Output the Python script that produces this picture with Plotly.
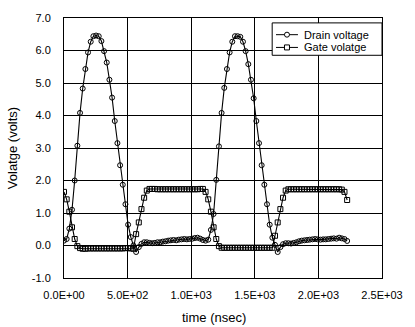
import plotly.graph_objects as go

# Sample instants (ns)
time_ns = [
    0, 21, 42, 63, 84, 105, 126, 147, 168, 189,
    210, 231, 252, 273, 294, 315, 336, 357, 378, 399,
    420, 441, 462, 483, 504, 525, 546, 567, 588, 609,
    630, 651, 672, 693, 714, 735, 756, 777, 798, 819,
    840, 861, 882, 903, 924, 945, 966, 987, 1008, 1029,
    1050, 1071, 1092, 1113, 1134, 1155, 1176, 1197, 1218, 1239,
    1260, 1281, 1302, 1323, 1344, 1365, 1386, 1407, 1428, 1449,
    1470, 1491, 1512, 1533, 1554, 1575, 1596, 1617, 1638, 1659,
    1680, 1701, 1722, 1743, 1764, 1785, 1806, 1827, 1848, 1869,
    1890, 1911, 1932, 1953, 1974, 1995, 2016, 2037, 2058, 2079,
    2100, 2121, 2142, 2163, 2184, 2205, 2226,
]

drain_v = [
    0.15, 0.20, 0.52, 1.10, 2.00, 3.07, 4.08, 4.83, 5.43, 5.94,
    6.27, 6.44, 6.46, 6.44, 6.29, 5.98, 5.63, 5.10, 4.55, 3.83,
    3.15, 2.47, 1.87, 1.27, 0.64, 0.26, 0.00, -0.20, -0.05, 0.05,
    0.10, 0.10, 0.08, 0.07, 0.08, 0.10, 0.10, 0.12, 0.13, 0.15,
    0.16, 0.17, 0.16, 0.18, 0.19, 0.20, 0.19, 0.20, 0.21, 0.23,
    0.24, 0.21, 0.17, 0.15, 0.18, 0.48, 0.97, 2.02, 3.05, 4.08,
    4.85, 5.43, 5.94, 6.27, 6.44, 6.44, 6.42, 6.27, 5.98, 5.58,
    5.10, 4.53, 3.83, 3.15, 2.47, 1.87, 1.27, 0.64, 0.24, 0.02,
    -0.20, -0.05, 0.04, 0.07, 0.07, 0.06, 0.08, 0.10, 0.13, 0.15,
    0.16, 0.17, 0.18, 0.19, 0.20, 0.19, 0.18, 0.19, 0.19, 0.20,
    0.21, 0.22, 0.21, 0.24, 0.22, 0.20, 0.14,
]

gate_v = [
    1.65, 1.42, 1.04, 0.56, 0.20, -0.02, -0.08,
    -0.10, -0.10, -0.09, -0.09, -0.09, -0.09, -0.09, -0.09, -0.09, -0.09,
    -0.09, -0.09, -0.09, -0.09, -0.09, -0.09, -0.08, -0.08, -0.09, -0.10,
    0.35, 0.71, 1.12, 1.47, 1.69,
    1.74, 1.74, 1.74, 1.73, 1.73, 1.73, 1.73, 1.73, 1.73, 1.73, 1.73,
    1.73, 1.73, 1.73, 1.73, 1.73, 1.73, 1.73, 1.73, 1.74, 1.74,
    1.65, 1.42, 1.04, 0.56, 0.20, -0.02,
    -0.07, -0.07, -0.07, -0.07, -0.07, -0.07, -0.07, -0.07, -0.07, -0.07,
    -0.07, -0.07, -0.07, -0.07, -0.07, -0.07, -0.07, -0.07, -0.07, -0.07,
    0.30, 0.71, 1.12, 1.47, 1.69,
    1.73, 1.73, 1.73, 1.73, 1.73, 1.73, 1.73, 1.73, 1.73, 1.73, 1.73,
    1.73, 1.73, 1.73, 1.73, 1.73, 1.73, 1.73, 1.73, 1.73, 1.72,
    1.65, 1.40,
]

x_ticks = [0, 500, 1000, 1500, 2000, 2500]
x_tick_text = ["0.0E+00", "5.0E+02", "1.0E+03", "1.5E+03", "2.0E+03", "2.5E+03"]
y_ticks = [-1, 0, 1, 2, 3, 4, 5, 6, 7]
y_tick_text = ["-1.0", "0.0", "1.0", "2.0", "3.0", "4.0", "5.0", "6.0", "7.0"]

series_names = ["Drain voltage", "Gate volatge"]
series_symbols = ["circle", "square"]

FONT = "Liberation Sans, Arial, sans-serif"

# Plot-area geometry in pixels (used to place the boxed key in paper units)
W, H = 415, 327
ML, MR, MT, MB = 61, 21, 13, 49
PW, PH = W - ML - MR, H - MT - MB


def px_x(px):
    return (px - ML) / PW


def px_y(py):
    return (H - MB - py) / PH


fig = go.Figure()
for name, yv, sym in zip(series_names, [drain_v, gate_v], series_symbols):
    fig.add_trace(go.Scatter(
        x=time_ns, y=yv, name=name, mode="lines+markers",
        line=dict(color="black", width=1.1),
        marker=dict(symbol=sym + "-open", size=5, color="black", line=dict(width=1)),
        showlegend=False,
    ))

axis_common = dict(
    showgrid=True, gridcolor="black", gridwidth=1,
    showline=True, linecolor="black", linewidth=1, mirror=True,
    ticks="", zeroline=False,
    tickfont=dict(family=FONT, size=11, color="black"),
)

# Boxed key in the upper-right corner
shapes = [dict(
    type="rect", xref="paper", yref="paper",
    x0=px_x(279), x1=px_x(394), y0=px_y(51), y1=px_y(18),
    line=dict(color="black", width=1), fillcolor="white", layer="above",
)]
annotations = []
for i, (name, sym) in enumerate(zip(series_names, series_symbols)):
    row_y = px_y(30 + 13 * i)
    shapes.append(dict(
        type="line", xref="paper", yref="paper",
        x0=px_x(283), x1=px_x(306), y0=row_y, y1=row_y,
        line=dict(color="black", width=1), layer="above",
    ))
    shapes.append(dict(
        type="circle" if sym == "circle" else "rect",
        xref="paper", yref="paper", xsizemode="pixel", ysizemode="pixel",
        xanchor=px_x(294.5), yanchor=row_y,
        x0=-2.5, x1=2.5, y0=-2.5, y1=2.5,
        line=dict(color="black", width=1), fillcolor="white", layer="above",
    ))
    annotations.append(dict(
        text=name, xref="paper", yref="paper", x=px_x(310), y=row_y,
        xanchor="left", yanchor="middle", showarrow=False,
        font=dict(family=FONT, size=11, color="black"),
    ))

annotations.append(dict(
    text="time (nsec)", xref="paper", yref="paper", x=px_x(218), y=px_y(318),
    xanchor="center", yanchor="middle", showarrow=False,
    font=dict(family=FONT, size=13, color="black"),
))

fig.update_layout(
    width=W, height=H,
    margin=dict(l=ML, r=MR, t=MT, b=MB),
    paper_bgcolor="white", plot_bgcolor="white",
    font=dict(family=FONT, color="black"),
    xaxis=dict(
        range=[0, 2500], tickvals=x_ticks, ticktext=x_tick_text,
        ticklabelstandoff=7,
        **axis_common,
    ),
    yaxis=dict(
        range=[-1, 7], tickvals=y_ticks, ticktext=y_tick_text,
        title=dict(text="Volatge (volts)", font=dict(family=FONT, size=13), standoff=11),
        ticklabelstandoff=10,
        **axis_common,
    ),
    shapes=shapes,
    annotations=annotations,
    showlegend=False,
)

fig.write_html("out.html")
